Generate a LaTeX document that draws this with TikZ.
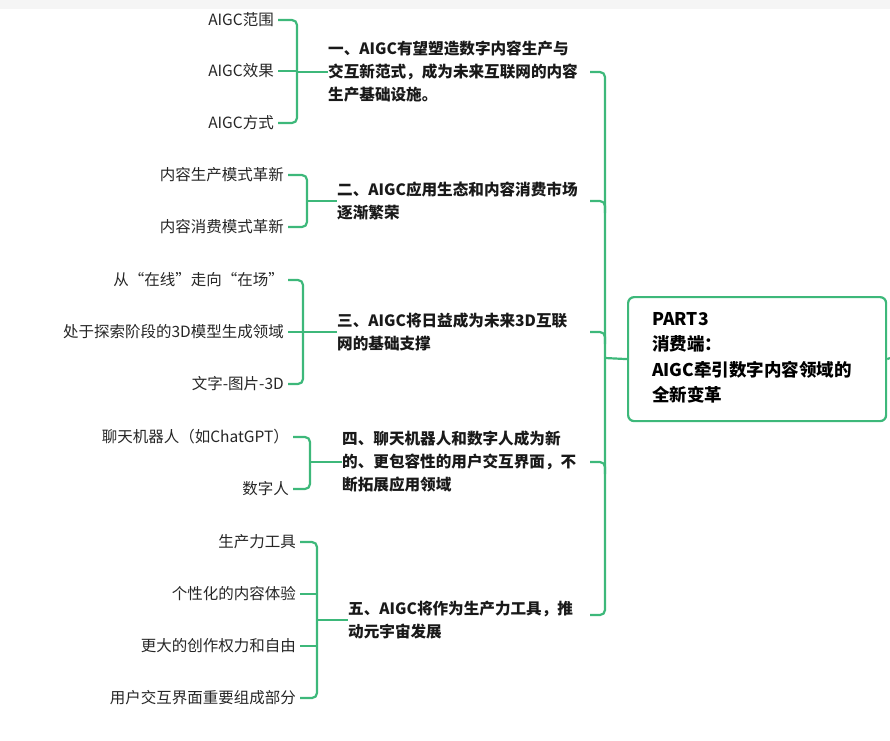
\documentclass[tikz,border=0pt]{standalone}
\usepackage{fontspec}
\setmainfont{Noto Sans CJK SC}
\definecolor{g}{HTML}{3DB87A}
\begin{document}
\begin{tikzpicture}[x=1pt,y=-1pt,
 leaf/.style={anchor=east,inner sep=4pt,font=\fontsize{15.5}{16}\selectfont,text=black!85},
 br/.style={anchor=west,align=left,inner sep=0pt,font=\fontsize{15.6}{23}\selectfont\bfseries,text=black!90},
 ln/.style={draw=g,line width=2.2pt,rounded corners=5pt}]
\useasboundingbox (0,0) rectangle (890,740);
\fill[black!4] (0,0) rectangle (890,9);
% root
\node[draw=g,line width=2.2pt,rounded corners=6pt,minimum width=258,minimum height=124,anchor=north west,inner sep=0] (root) at (627,296) {};
\node[anchor=west,align=left,font=\fontsize{17.5}{25.5}\selectfont\bfseries,inner sep=0] (rt) at (652,358) {PART3\\消费端：\\AIGC牵引数字内容领域的\\全新变革};
\draw[g,line width=2.2pt] (root.east) -- (890,358);
% branches
\node[br] (b1) at (328,72) {一、AIGC有望塑造数字内容生产与\\交互新范式，成为未来互联网的内容\\生产基础设施。};
\node[br] (b2) at (337,201) {二、AIGC应用生态和内容消费市场\\逐渐繁荣};
\node[br] (b3) at (337,332) {三、AIGC将日益成为未来3D互联\\网的基础支撑};
\node[br] (b4) at (342,462) {四、聊天机器人和数字人成为新\\的、更包容性的用户交互界面，不\\断拓展应用领域};
\node[br] (b5) at (348,620) {五、AIGC将作为生产力工具，推\\动元宇宙发展};
\coordinate (t) at (605,358);
\draw[ln] (root.west) -- (t);
\draw[ln] (590,72) -- (605,72) -- (605,615) -- (590,615);
\foreach \y in {201,332,462}{\draw[ln] (590,\y) -- (605,\y) -- (605,\y+12);}
% leaves
\node[leaf] (l11) at (278,20) {AIGC范围};
\node[leaf] (l12) at (278,71) {AIGC效果};
\node[leaf] (l13) at (278,123) {AIGC方式};
\node[leaf] (l21) at (288,175) {内容生产模式革新};
\node[leaf] (l22) at (288,227) {内容消费模式革新};
\node[leaf] (l31) at (288,280) {从“在线”走向“在场”};
\node[leaf] (l32) at (288,332) {处于探索阶段的3D模型生成领域};
\node[leaf] (l33) at (288,384) {文字-图片-3D};
\node[leaf] (l41) at (293,437) {聊天机器人（如ChatGPT）};
\node[leaf] (l42) at (293,489) {数字人};
\node[leaf] (l51) at (300,542) {生产力工具};
\node[leaf] (l52) at (300,594) {个性化的内容体验};
\node[leaf] (l53) at (300,646) {更大的创作权力和自由};
\node[leaf] (l54) at (300,698) {用户交互界面重要组成部分};
% brackets
\draw[ln] (l11.east) -- (297,20) -- (297,123) -- (l13.east);
\draw[ln] (l12.east) -- (297,71);
\draw[ln] (297,72) -- (b1.west);
\draw[ln] (l21.east) -- (307,175) -- (307,227) -- (l22.east);
\draw[ln] (307,201) -- (b2.west);
\draw[ln] (l31.east) -- (303,280) -- (303,384) -- (l33.east);
\draw[ln] (l32.east) -- (303,332) -- (b3.west);
\draw[ln] (l41.east) -- (310,437) -- (310,489) -- (l42.east);
\draw[ln] (310,462) -- (b4.west);
\draw[ln] (l51.east) -- (317,542) -- (317,698) -- (l54.east);
\draw[ln] (l52.east) -- (317,594);
\draw[ln] (l53.east) -- (317,646);
\draw[ln] (317,620) -- (b5.west);
\end{tikzpicture}
\end{document}
